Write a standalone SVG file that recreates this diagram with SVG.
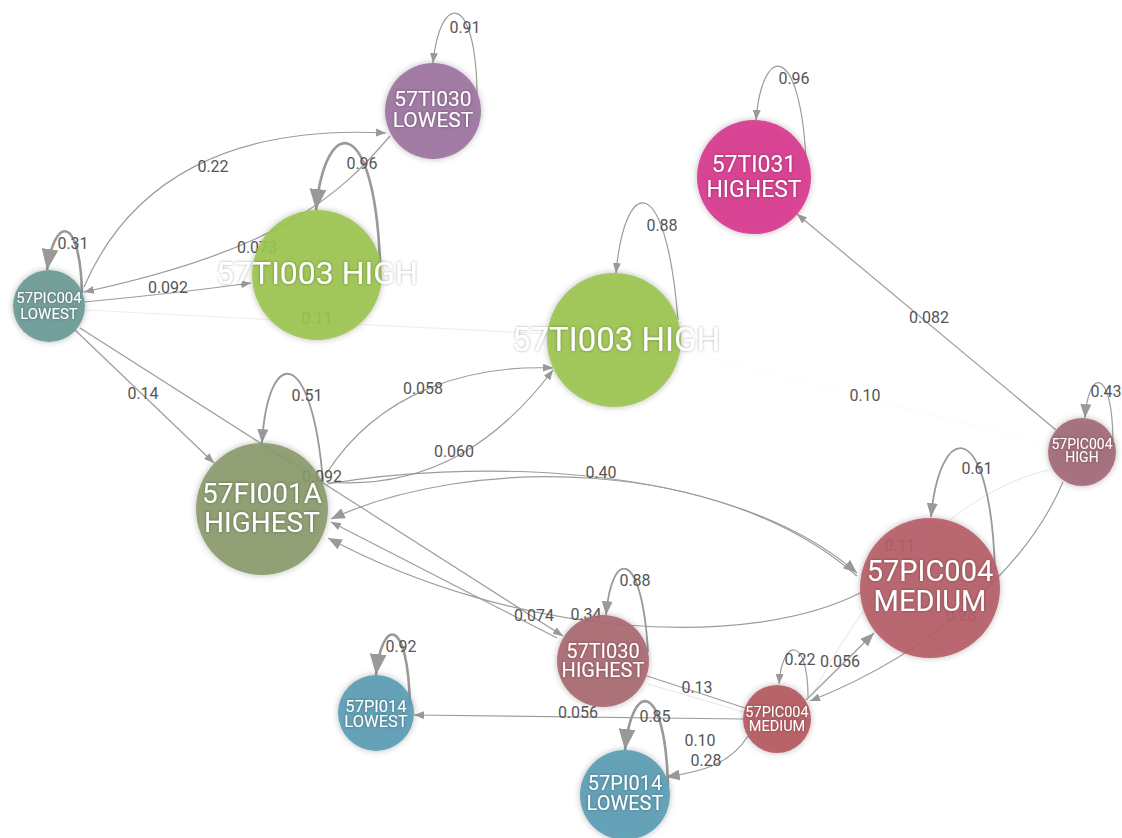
<svg xmlns="http://www.w3.org/2000/svg" width="1122" height="838" viewBox="0 0 1122 838">
<style>
.e{fill:none;stroke:#9c9c9c;stroke-width:1.2}
.em{fill:none;stroke:#999;stroke-width:1.8}
.et{fill:none;stroke:#999;stroke-width:2.6}
.ef{fill:none;stroke:#e6e6e6;stroke-width:1}
.lb{font-family:Roboto,"Liberation Sans",sans-serif;font-size:16px;fill:#555;text-anchor:middle}
.nl{font-family:Roboto,"Liberation Sans",sans-serif;fill:#fff;text-anchor:middle}
.nc{filter:url(#ns)}
</style>
<defs>
<marker id="a" viewBox="0 0 10 8" refX="10" refY="4" markerWidth="10" markerHeight="8" markerUnits="userSpaceOnUse" orient="auto"><path d="M0,0L10,4L0,8z" fill="#999"/></marker>
<marker id="am" viewBox="0 0 10 8" refX="10" refY="4" markerWidth="14" markerHeight="11" markerUnits="userSpaceOnUse" orient="auto"><path d="M0,0L10,4L0,8z" fill="#999"/></marker>
<marker id="al" viewBox="0 0 10 8" refX="10" refY="4" markerWidth="21" markerHeight="18" markerUnits="userSpaceOnUse" orient="auto"><path d="M0,0L10,4L0,8z" fill="#999"/></marker>
<filter id="ns" x="-20%" y="-20%" width="140%" height="140%"><feDropShadow dx="0" dy="0" stdDeviation="3" flood-color="#000" flood-opacity="0.3"/></filter>
<filter id="ts" x="-10%" y="-30%" width="120%" height="160%"><feGaussianBlur in="SourceAlpha" stdDeviation="1.6"/><feComponentTransfer><feFuncA type="linear" slope="0.35"/></feComponentTransfer><feMerge><feMergeNode/><feMergeNode in="SourceGraphic"/></feMerge></filter>
</defs>
<rect width="1122" height="838" fill="#fff"/>
<g id="connectors">
<path class="ef" style="stroke:#ededed" d="M85,310 L547,334"/>
<path class="ef" style="stroke:#fbfbfb" d="M681,350 L1048,445"/>
<path class="ef" d="M1049,470 C960,490 870,580 812,696"/>
<path class="ef" d="M648,684 L744,712"/>
<path class="e" d="M477,94 C476,-8 440,-8 433,63" marker-end="url(#a)"/>
<path class="e" d="M84,287 C130,180 230,125 386,133" marker-end="url(#a)"/>
<path class="e" d="M390,136 C340,195 280,250 84,292" marker-end="url(#a)"/>
<path class="et" d="M380,262 C374,112 325,115 316,210" marker-end="url(#al)"/>
<path class="e" d="M84,302 Q170,294 251,283" marker-end="url(#a)"/>
<path class="et" d="M82,293 C80,215 55,215 47,270" marker-end="url(#al)"/>
<path class="e" d="M678,320 C666,170 625,175 616,273" marker-end="url(#a)"/>
<path class="e" d="M806,160 C800,40 762,45 756,120" marker-end="url(#a)"/>
<path class="e" d="M1056,430 L797,214" marker-end="url(#a)"/>
<path class="e" d="M1113,440 C1112,365 1088,370 1085,418" marker-end="url(#am)"/>
<path class="e" d="M75,330 L214,463" marker-end="url(#a)"/>
<path class="e" d="M80,328 L563,636" marker-end="url(#a)"/>
<path class="em" d="M323,482 C312,345 268,345 262,443" marker-end="url(#am)"/>
<path class="e" d="M326,474 C380,390 470,365 553,368" marker-end="url(#a)"/>
<path class="e" d="M327,482 C430,490 500,440 553,370" marker-end="url(#a)"/>
<path class="e" d="M327,484 C450,462 720,455 857,573" marker-end="url(#am)"/>
<path class="e" d="M857,576 C720,456 470,455 331,519" marker-end="url(#am)"/>
<path class="e" d="M862,592 C750,650 520,640 328,538" marker-end="url(#am)"/>
<path class="e" d="M557,638 L331,522" marker-end="url(#a)"/>
<path class="em" d="M995,570 C990,415 940,420 931,517" marker-end="url(#am)"/>
<path class="em" d="M648,652 C642,548 612,548 606,615" marker-end="url(#am)"/>
<path class="e" d="M647,676 L745,708"/>
<path class="e" d="M743,719 L414,715" marker-end="url(#a)"/>
<path class="et" d="M410,706 C408,615 382,618 376,675" marker-end="url(#al)"/>
<path class="et" d="M668,785 C665,680 632,680 625,750" marker-end="url(#al)"/>
<path class="e" d="M748,736 C730,765 700,772 666,777" marker-end="url(#am)"/>
<path class="e" d="M806,700 L874,633" marker-end="url(#am)"/>
<path class="e" d="M1063,482 C1030,560 940,650 810,701" marker-end="url(#a)"/>
<path class="e" d="M808,697 C808,635 782,638 779,684" marker-end="url(#a)"/>
<text class="lb" x="465" y="33">0.91</text>
<text class="lb" x="213" y="172">0.22</text>
<text class="lb" x="362" y="169">0.96</text>
<text class="lb" x="257" y="253">0.073</text>
<text class="lb" x="73" y="249">0.31</text>
<text class="lb" x="168" y="293">0.092</text>
<text class="lb" x="317" y="324">0.11</text>
<text class="lb" x="794" y="84">0.96</text>
<text class="lb" x="662" y="231">0.88</text>
<text class="lb" x="929" y="323">0.082</text>
<text class="lb" x="865" y="401">0.10</text>
<text class="lb" x="1106" y="397">0.43</text>
<text class="lb" x="143" y="399">0.14</text>
<text class="lb" x="307" y="401">0.51</text>
<text class="lb" x="423" y="394">0.058</text>
<text class="lb" x="454" y="457">0.060</text>
<text class="lb" x="322" y="482">0.092</text>
<text class="lb" x="601" y="478">0.40</text>
<text class="lb" x="977" y="474">0.61</text>
<text class="lb" x="900" y="551">0.11</text>
<text class="lb" x="961" y="621">0.28</text>
<text class="lb" x="534" y="621">0.074</text>
<text class="lb" x="586" y="620">0.34</text>
<text class="lb" x="635" y="586">0.88</text>
<text class="lb" x="401" y="652">0.92</text>
<text class="lb" x="800" y="665">0.22</text>
<text class="lb" x="840" y="667">0.056</text>
<text class="lb" x="697" y="693">0.13</text>
<text class="lb" x="578" y="718">0.056</text>
<text class="lb" x="655" y="722">0.85</text>
<text class="lb" x="700" y="746">0.10</text>
<text class="lb" x="706" y="766">0.28</text>
</g>
<g id="n-ti030-lowest"><circle class="nc" cx="433" cy="111" r="48" fill="#9b72a0" fill-opacity="0.9"/><text class="nl" filter="url(#ts)" font-size="21" x="433" y="106">57TI030</text><text class="nl" filter="url(#ts)" font-size="21" x="433" y="127">LOWEST</text></g>
<g id="n-ti031-highest"><circle class="nc" cx="754" cy="177" r="57" fill="#d8398e" fill-opacity="0.92"/><text class="nl" filter="url(#ts)" font-size="23" x="754" y="172">57TI031</text><text class="nl" filter="url(#ts)" font-size="23" x="754" y="197">HIGHEST</text></g>
<g id="n-ti003-high-a"><circle class="nc" cx="317" cy="275" r="65" fill="#9bc44f" fill-opacity="0.9"/><text class="nl" filter="url(#ts)" font-size="32" x="317" y="284">57TI003 HIGH</text></g>
<g id="n-pic004-lowest"><circle class="nc" cx="49" cy="306" r="36" fill="#6b9a96" fill-opacity="0.92"/><text class="nl" filter="url(#ts)" font-size="15" x="49" y="303">57PIC004</text><text class="nl" filter="url(#ts)" font-size="15" x="49" y="319">LOWEST</text></g>
<g id="n-ti003-high-b"><circle class="nc" cx="614" cy="340" r="67" fill="#9bc44f" fill-opacity="0.9"/><text class="nl" filter="url(#ts)" font-size="33" x="616" y="351">57TI003 HIGH</text></g>
<g id="n-fi001a-highest"><circle class="nc" cx="262" cy="509" r="66" fill="#8a9a6c" fill-opacity="0.9"/><text class="nl" filter="url(#ts)" font-size="28" x="262" y="503">57FI001A</text><text class="nl" filter="url(#ts)" font-size="28" x="262" y="532">HIGHEST</text></g>
<g id="n-pic004-high"><circle class="nc" cx="1082" cy="452" r="34" fill="#a36a78" fill-opacity="0.92"/><text class="nl" filter="url(#ts)" font-size="14" x="1082" y="449">57PIC004</text><text class="nl" filter="url(#ts)" font-size="14" x="1082" y="462">HIGH</text></g>
<g id="n-pic004-medium-a"><circle class="nc" cx="930" cy="588" r="70" fill="#b65d66" fill-opacity="0.9"/><text class="nl" filter="url(#ts)" font-size="29" x="930" y="581">57PIC004</text><text class="nl" filter="url(#ts)" font-size="29" x="930" y="611">MEDIUM</text></g>
<g id="n-ti030-highest"><circle class="nc" cx="603" cy="661" r="46" fill="#a96a72" fill-opacity="0.92"/><text class="nl" filter="url(#ts)" font-size="20" x="603" y="658">57TI030</text><text class="nl" filter="url(#ts)" font-size="20" x="603" y="677">HIGHEST</text></g>
<g id="n-pic004-medium-b"><circle class="nc" cx="777" cy="719" r="34" fill="#b65a62" fill-opacity="0.92"/><text class="nl" filter="url(#ts)" font-size="14.5" x="777" y="717">57PIC004</text><text class="nl" filter="url(#ts)" font-size="14.5" x="777" y="731">MEDIUM</text></g>
<g id="n-pi014-lowest-a"><circle class="nc" cx="376" cy="713" r="38" fill="#5b9db5" fill-opacity="0.92"/><text class="nl" filter="url(#ts)" font-size="16.5" x="376" y="712">57PI014</text><text class="nl" filter="url(#ts)" font-size="16.5" x="376" y="727">LOWEST</text></g>
<g id="n-pi014-lowest-b"><circle class="nc" cx="625" cy="795" r="45" fill="#5b9db5" fill-opacity="0.92"/><text class="nl" filter="url(#ts)" font-size="20" x="625" y="790">57PI014</text><text class="nl" filter="url(#ts)" font-size="20" x="625" y="810">LOWEST</text></g>
</svg>
